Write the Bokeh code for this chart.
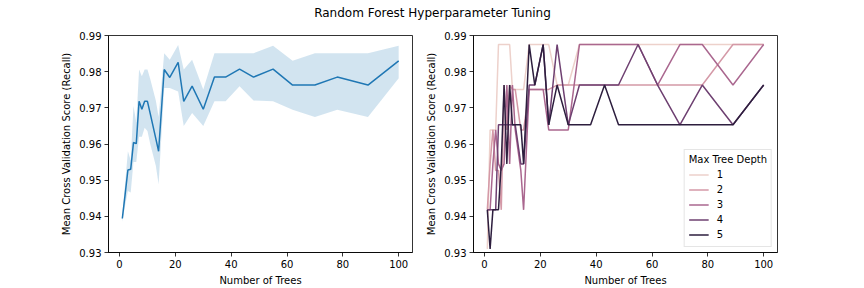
from bokeh.plotting import figure
from bokeh.layouts import column, row
from bokeh.models import (Range1d, Label, Legend, LegendItem, FixedTicker,
                          PrintfTickFormatter, ColumnDataSource)
from bokeh.embed import file_html
from bokeh.resources import INLINE

# ---------------- data ----------------
n_trees = [1, 2, 3, 4, 5, 6, 7, 8, 9, 10, 11, 13, 14, 16, 18, 21, 23, 26, 30,
           34, 38, 43, 48, 55, 62, 70, 78, 89, 100]

mean_recall = [0.9394, 0.9460, 0.9528, 0.9530, 0.9604, 0.9601, 0.9718, 0.9696,
               0.9718, 0.9718, 0.9684, 0.9615, 0.9580, 0.9806, 0.9784, 0.9826,
               0.9718, 0.9760, 0.9696, 0.9785, 0.9785, 0.9807, 0.9785, 0.9807,
               0.9763, 0.9763, 0.9785, 0.9763, 0.9830]
ci_low = [0.9385, 0.9430, 0.9470, 0.9466, 0.9550, 0.9550, 0.9620, 0.9620,
          0.9645, 0.9636, 0.9600, 0.9540, 0.9489, 0.9755, 0.9755, 0.9745,
          0.9650, 0.9686, 0.9650, 0.9718, 0.9718, 0.9760, 0.9720, 0.9718,
          0.9695, 0.9675, 0.9695, 0.9675, 0.9782]
ci_high = [0.9405, 0.9490, 0.9580, 0.9555, 0.9705, 0.9660, 0.9806, 0.9787,
           0.9806, 0.9806, 0.9780, 0.9720, 0.9675, 0.9851, 0.9833, 0.9874,
           0.9806, 0.9833, 0.9751, 0.9851, 0.9851, 0.9851, 0.9851, 0.9872,
           0.9830, 0.9851, 0.9851, 0.9851, 0.9872]

depth_1 = [0.9310, 0.9639, 0.9639, 0.9639, 0.9875, 0.9875, 0.9875, 0.9875, 0.9875,
           0.9751, 0.9751, 0.9751, 0.9751, 0.9875, 0.9875, 0.9875, 0.9875, 0.9763,
           0.9763, 0.9875, 0.9875, 0.9875, 0.9875, 0.9875, 0.9875, 0.9875, 0.9875,
           0.9875, 0.9875]
depth_2 = [0.9418, 0.9545, 0.9639, 0.9527, 0.9527, 0.9418, 0.9763, 0.9639, 0.9763,
           0.9751, 0.9751, 0.9639, 0.9639, 0.9751, 0.9751, 0.9751, 0.9751, 0.9763,
           0.9763, 0.9763, 0.9763, 0.9763, 0.9763, 0.9763, 0.9763, 0.9763, 0.9763,
           0.9875, 0.9875]
depth_3 = [0.9418, 0.9418, 0.9545, 0.9639, 0.9545, 0.9527, 0.9545, 0.9763, 0.9545,
           0.9763, 0.9639, 0.9527, 0.9418, 0.9751, 0.9751, 0.9751, 0.9639, 0.9639,
           0.9639, 0.9875, 0.9875, 0.9875, 0.9875, 0.9875, 0.9763, 0.9875, 0.9875,
           0.9763, 0.9875]
depth_4 = [0.9418, 0.9418, 0.9418, 0.9418, 0.9653, 0.9653, 0.9653, 0.9653, 0.9653,
           0.9653, 0.9653, 0.9545, 0.9545, 0.9763, 0.9763, 0.9875, 0.9653, 0.9875,
           0.9653, 0.9763, 0.9763, 0.9763, 0.9763, 0.9875, 0.9763, 0.9653, 0.9763,
           0.9653, 0.9763]
depth_5 = [0.9418, 0.9310, 0.9418, 0.9418, 0.9418, 0.9545, 0.9763, 0.9545, 0.9763,
           0.9653, 0.9653, 0.9653, 0.9545, 0.9875, 0.9763, 0.9875, 0.9653, 0.9763,
           0.9653, 0.9653, 0.9653, 0.9763, 0.9653, 0.9653, 0.9653, 0.9653, 0.9653,
           0.9653, 0.9763]

depth_labels = ["1", "2", "3", "4", "5"]
x_ticks = [0, 20, 40, 60, 80, 100]
y_ticks = [0.93, 0.94, 0.95, 0.96, 0.97, 0.98, 0.99]

title_text = "Random Forest Hyperparameter Tuning"
x_label = "Number of Trees"
y_label = "Mean Cross Validation Score (Recall)"
legend_title = "Max Tree Depth"

# ---------------- styles ----------------
FONT = "DejaVu Sans"
BLUE = "#1f77b4"
DEPTH_COLORS = ["#edd1cb", "#d499a7", "#aa678f", "#6e4071", "#2d1e3e"]
X_RANGE = (-3.95, 104.95)
Y_RANGE = (0.93, 0.99)


def make_fig(width, border_left, border_right):
    p = figure(width=width, height=264, output_backend="svg", toolbar_location=None,
               x_range=Range1d(*X_RANGE), y_range=Range1d(*Y_RANGE),
               min_border_left=border_left, min_border_right=border_right,
               min_border_top=11, min_border_bottom=36)
    p.outline_line_color = "black"
    p.outline_line_width = 0.8
    p.grid.visible = False
    p.background_fill_color = "white"
    p.border_fill_color = "white"
    for ax in (p.xaxis[0], p.yaxis[0]):
        ax.axis_line_color = "black"
        ax.axis_line_width = 0.8
        ax.major_tick_line_color = "black"
        ax.major_tick_line_width = 0.8
        ax.major_tick_out = 4
        ax.major_tick_in = 0
        ax.minor_tick_line_color = None
        ax.major_label_standoff = 3
        ax.major_label_text_font = FONT
        ax.major_label_text_font_size = "10px"
        ax.major_label_text_color = "black"
        ax.axis_label_text_font = FONT
        ax.axis_label_text_font_size = "10px"
        ax.axis_label_text_font_style = "normal"
        ax.axis_label_text_color = "black"
        ax.axis_label_standoff = 4
    p.xaxis[0].ticker = FixedTicker(ticks=x_ticks)
    p.yaxis[0].ticker = FixedTicker(ticks=y_ticks)
    p.yaxis[0].formatter = PrintfTickFormatter(format="%.2f")
    p.xaxis[0].axis_label = x_label
    p.yaxis[0].axis_label = y_label
    return p


# ---------------- suptitle strip ----------------
p0 = figure(width=864, height=24, output_backend="svg", toolbar_location=None,
            x_range=Range1d(0, 864), y_range=Range1d(0, 24),
            x_axis_type=None, y_axis_type=None, min_border=0)
p0.outline_line_color = None
p0.grid.visible = False
p0.add_layout(Label(x=432, y=12, text=title_text, text_align="center",
                    text_baseline="middle", text_font=FONT,
                    text_font_size="12px", text_color="black"))

# ---------------- left: mean with confidence band ----------------
p1 = make_fig(420, 108, 8)
src = ColumnDataSource(dict(x=n_trees, y=mean_recall, lo=ci_low, hi=ci_high))
p1.varea(x="x", y1="lo", y2="hi", source=src, fill_color=BLUE, fill_alpha=0.2)
p1.line(x="x", y="y", source=src, line_color=BLUE, line_width=1.5)

# ---------------- right: one line per depth ----------------
p2 = make_fig(444, 53, 87)
depth_series = [depth_1, depth_2, depth_3, depth_4, depth_5]
items = []
for lab, vals, col in zip(depth_labels, depth_series, DEPTH_COLORS):
    r = p2.line(x=n_trees, y=vals, line_color=col, line_width=1.5)
    items.append(LegendItem(label=lab, renderers=[r]))

legend = Legend(items=items, location="bottom_right", title=legend_title,
                title_text_font=FONT, title_text_font_size="10px",
                title_text_font_style="normal", title_text_color="black",
                label_text_font=FONT, label_text_font_size="10px",
                label_text_color="black",
                label_height=15, glyph_height=15, glyph_width=20,
                label_standoff=8, spacing=0, padding=4, title_standoff=2,
                margin=5, border_line_color="#cccccc", border_line_width=1,
                background_fill_color="white", background_fill_alpha=0.8)
p2.add_layout(legend)

layout = column(p0, row(p1, p2))
open("out.html", "w").write(file_html(layout, INLINE))
